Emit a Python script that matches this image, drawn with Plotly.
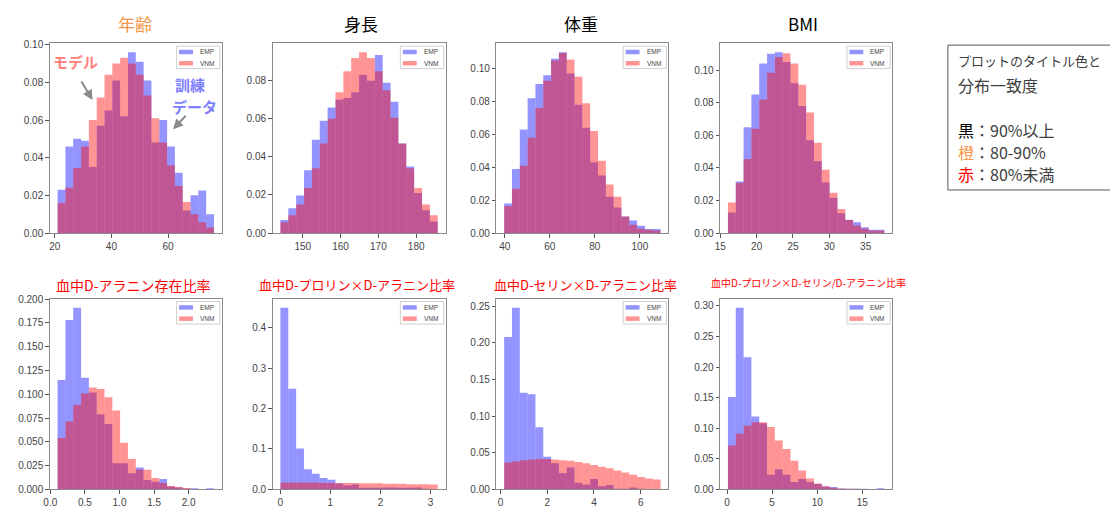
import numpy as np
import plotly.graph_objects as go

W, H = 1110, 516

titles = ["年齢", "身長", "体重", "BMI",
          "血中D-アラニン存在比率", "血中D-プロリン×D-アラニン比率",
          "血中D-セリン×D-アラニン比率", "血中D-プロリン×D-セリン/D-アラニン比率"]
title_colors = ["#F79646", "#000000", "#000000", "#000000",
                "#FF0000", "#FF0000", "#FF0000", "#FF0000"]
title_sizes = [17, 17, 17, 17, 14, 13, 13, 10]

# histogram bin range (first edge, last edge), 20 equal bins each
age_range = [21.0, 76.2]
height_range = [144.1, 185.7]
weight_range = [39.7, 109.2]
bmi_range = [16.05, 37.57]
ala_range = [0.106, 2.365]
proala_range = [0.003, 3.145]
serala_range = [0.156, 6.85]
proserala_range = [0.1, 17.45]

age_emp = [0.023, 0.046, 0.050, 0.049, 0.035, 0.057, 0.065, 0.081, 0.062, 0.096,
           0.091, 0.081, 0.048, 0.060, 0.046, 0.032, 0.012, 0.020, 0.0226, 0.010]
age_vnm = [0.016, 0.024, 0.0345, 0.046, 0.060, 0.072, 0.084, 0.090, 0.093, 0.090,
           0.084, 0.073, 0.061, 0.048, 0.036, 0.025, 0.0165, 0.010, 0.0057, 0.003]

height_emp = [0.0069, 0.013, 0.0197, 0.033, 0.049, 0.059, 0.066, 0.070, 0.071, 0.074,
              0.083, 0.080, 0.0936, 0.079, 0.069, 0.047, 0.035, 0.021, 0.012, 0.006]
height_vnm = [0.0057, 0.0094, 0.015, 0.0237, 0.034, 0.047, 0.060, 0.074, 0.085, 0.092,
              0.095, 0.092, 0.085, 0.075, 0.0606, 0.047, 0.034, 0.0237, 0.015, 0.0094]

weight_emp = [0.018, 0.039, 0.063, 0.082, 0.0906, 0.096, 0.106, 0.110, 0.097, 0.078,
              0.064, 0.043, 0.035, 0.022, 0.0155, 0.010, 0.0076, 0.0044, 0.0024, 0.0024]
weight_vnm = [0.0165, 0.027, 0.041, 0.058, 0.076, 0.0926, 0.105, 0.1095, 0.1056, 0.095,
              0.079, 0.062, 0.044, 0.0295, 0.022, 0.010, 0.005, 0.0026, 0.002, 0.0016]

bmi_emp = [0.0126, 0.0317, 0.065, 0.085, 0.104, 0.110, 0.111, 0.105, 0.092, 0.078,
           0.057, 0.044, 0.031, 0.0217, 0.0122, 0.0082, 0.0066, 0.0036, 0.002, 0.002]
bmi_vnm = [0.0187, 0.0307, 0.0454, 0.064, 0.082, 0.0984, 0.108, 0.1104, 0.104, 0.091,
           0.074, 0.0554, 0.0388, 0.0247, 0.0147, 0.008, 0.0046, 0.0026, 0.0016, 0.0016]

ala_emp = [0.115, 0.178, 0.191, 0.1175, 0.102, 0.079, 0.0687, 0.0275, 0.0275, 0.017,
           0.023, 0.010, 0.008, 0.011, 0.003, 0.002, 0.001, 0.0013, 0.0, 0.0013]
ala_vnm = [0.054, 0.0715, 0.0887, 0.1007, 0.107, 0.1055, 0.097, 0.083, 0.049, 0.032,
           0.021, 0.0206, 0.012, 0.0068, 0.0035, 0.0025, 0.0015, 0.0005, 0.0, 0.0]

proala_emp = [0.449, 0.249, 0.101, 0.050, 0.039, 0.028, 0.024, 0.0146, 0.010, 0.012,
              0.004, 0.004, 0.004, 0.005, 0.005, 0.004, 0.004, 0.005, 0.002, 0.001]
proala_vnm = [0.017, 0.017, 0.017, 0.017, 0.017, 0.016, 0.016, 0.016, 0.016, 0.016,
              0.015, 0.015, 0.015, 0.014, 0.014, 0.014, 0.013, 0.013, 0.013, 0.012]

serala_emp = [0.208, 0.248, 0.132, 0.130, 0.085, 0.0446, 0.0357, 0.022, 0.030, 0.009,
              0.0067, 0.0143, 0.0045, 0.006, 0.001, 0.001, 0.0027, 0.001, 0.0, 0.0]
serala_vnm = [0.0366, 0.038, 0.040, 0.041, 0.0415, 0.0415, 0.041, 0.040, 0.039, 0.0375,
              0.0357, 0.0335, 0.031, 0.029, 0.026, 0.023, 0.020, 0.017, 0.015, 0.0134]

proserala_emp = [0.151, 0.297, 0.216, 0.119, 0.108, 0.024, 0.033, 0.024, 0.012, 0.017,
                 0.012, 0.009, 0.005, 0.004, 0.0016, 0.001, 0.001, 0.001, 0.0, 0.002]
proserala_vnm = [0.072, 0.091, 0.104, 0.110, 0.110, 0.102, 0.080, 0.066, 0.047, 0.031,
                 0.018, 0.0096, 0.0054, 0.0027, 0.0016, 0.001, 0.001, 0.0005, 0.0005, 0.0]

ranges = [age_range, height_range, weight_range, bmi_range,
          ala_range, proala_range, serala_range, proserala_range]
emps = [age_emp, height_emp, weight_emp, bmi_emp, ala_emp, proala_emp, serala_emp, proserala_emp]
vnms = [age_vnm, height_vnm, weight_vnm, bmi_vnm, ala_vnm, proala_vnm, serala_vnm, proserala_vnm]

x_ticks = [[20, 40, 60], [150, 160, 170, 180], [40, 60, 80, 100], [15, 20, 25, 30, 35],
           [0.0, 0.5, 1.0, 1.5, 2.0], [0, 1, 2, 3], [0, 2, 4, 6], [0, 5, 10, 15]]
x_fmt = ["d", "d", "d", "d", ".1f", "d", "d", "d"]
y_dtick = [0.02, 0.02, 0.02, 0.02, 0.025, 0.1, 0.05, 0.05]
y_fmt = [".2f", ".2f", ".2f", ".2f", ".3f", ".1f", ".2f", ".2f"]

series_names = ["EMP", "VNM"]
EMP_COLOR = "rgba(0,0,255,0.42)"
VNM_COLOR = "rgba(255,0,0,0.42)"

# layout geometry in pixels
cols = [(44, 217), (268, 442), (493, 666), (718, 891)]
rows = [(39, 233), (300, 495)]

fig = go.Figure()
layout = dict(width=W, height=H, margin=dict(l=0, r=0, t=0, b=0),
              paper_bgcolor="white", plot_bgcolor="white",
              barmode="overlay", showlegend=False,
              font=dict(family="Liberation Sans, Arial, sans-serif", size=10, color="#444"))
shapes = []
annotations = []

for i in range(8):
    r, c = divmod(i, 4)
    x0p, x1p = cols[c]
    y0p, y1p = rows[r]
    wpx, hpx = x1p - x0p, y1p - y0p
    n = i + 1
    xa = "x" if n == 1 else f"x{n}"
    ya = "y" if n == 1 else f"y{n}"
    lo, hi = ranges[i]
    edges = np.linspace(lo, hi, len(emps[i]) + 1)
    centers = (edges[:-1] + edges[1:]) / 2
    bw = edges[1] - edges[0]
    for name, vals, col in [("EMP", emps[i], EMP_COLOR), ("VNM", vnms[i], VNM_COLOR)]:
        fig.add_trace(go.Bar(x=centers, y=vals, width=bw, name=name,
                             marker=dict(color=col, line=dict(width=0)),
                             xaxis=xa, yaxis=ya, hoverinfo="x+y+name"))
    span = hi - lo
    ymax = max(max(emps[i]), max(vnms[i])) * 1.05
    axis_common = dict(showline=True, mirror=True, linecolor="#8a8a8a", linewidth=1,
                       showgrid=False, zeroline=False, ticks="outside", ticklen=3.5,
                       tickcolor="#555", tickwidth=1,
                       tickfont=dict(size=10, color="#444"))
    layout["xaxis" if n == 1 else f"xaxis{n}"] = dict(
        domain=[x0p / W, x1p / W], range=[lo - 0.05 * span, hi + 0.05 * span],
        anchor=ya, tickmode="array", tickvals=x_ticks[i], tickformat=x_fmt[i], **axis_common)
    layout["yaxis" if n == 1 else f"yaxis{n}"] = dict(
        domain=[1 - y1p / H, 1 - y0p / H], range=[0, ymax], anchor=xa,
        tick0=0, dtick=y_dtick[i], tickformat=y_fmt[i], **axis_common)

    # per-subplot legend
    xr, yr = f"{xa} domain", f"{ya} domain"
    shapes.append(dict(type="rect", xref=xr, yref=yr,
                       x0=1 - 45.5 / wpx, x1=1 - 2 / wpx, y0=1 - 26 / hpx, y1=1 - 3 / hpx,
                       line=dict(color="#d0d0d0", width=1), fillcolor="rgba(255,255,255,0.8)",
                       layer="above"))
    for k, (name, col) in enumerate(zip(series_names, [EMP_COLOR, VNM_COLOR])):
        yc = 9 + k * 11.5
        shapes.append(dict(type="rect", xref=xr, yref=yr,
                           x0=1 - 43 / wpx, x1=1 - 29 / wpx,
                           y0=1 - (yc + 2.3) / hpx, y1=1 - (yc - 2.3) / hpx,
                           line=dict(width=0), fillcolor=col, layer="above"))
        annotations.append(dict(xref=xr, yref=yr, x=1 - 24 / wpx, y=1 - yc / hpx,
                                text=name, showarrow=False, xanchor="left", yanchor="middle",
                                font=dict(size=6.5, color="#444")))

# subplot titles
title_pos = [(130, 19), (357, 19), (578, 19), (801, 19),
             (128, 286), (353, 286), (583, 286), (807, 284)]
for t, col, sz, (cx, cy) in zip(titles, title_colors, title_sizes, title_pos):
    annotations.append(dict(xref="paper", yref="paper", x=cx / W, y=1 - cy / H, text=t,
                            showarrow=False, xanchor="center", yanchor="middle",
                            font=dict(size=sz, color=col, family="Noto Sans CJK JP")))

# annotations inside the age plot
cjk = "Noto Sans CJK JP"
for txt, cx, cy, col in [("<b>モデル</b>", 70, 58, "#FF7F7F"),
                         ("<b>訓練</b>", 185, 81, "#8080FF"),
                         ("<b>データ</b>", 190, 104, "#8080FF")]:
    annotations.append(dict(xref="paper", yref="paper", x=cx / W, y=1 - cy / H, text=txt,
                            showarrow=False, xanchor="center", yanchor="middle",
                            font=dict(size=15, color=col, family=cjk)))
annotations.append(dict(xref="paper", yref="paper", x=87 / W, y=1 - 97 / H, text="",
                        showarrow=True, ax=-12, ay=-20, arrowhead=2, arrowsize=1, arrowwidth=2,
                        arrowcolor="#8a8a8a", standoff=0))
annotations.append(dict(xref="paper", yref="paper", x=168 / W, y=1 - 127 / H, text="",
                        showarrow=True, ax=14, ay=-15, arrowhead=2, arrowsize=1, arrowwidth=2,
                        arrowcolor="#8a8a8a", standoff=0))

# explanatory box on the right
shapes.append(dict(type="rect", xref="paper", yref="paper",
                   x0=947 / W, x1=1.01, y0=1 - 189 / H, y1=1 - 41 / H,
                   line=dict(color="#555", width=1), fillcolor="white"))
box_lines = [
    ("プロットのタイトル色と", 57, 13),
    ("分布一致度", 82, 16),
    ("<span style='color:#000000'>黒</span>：90%以上", 128, 16),
    ("<span style='color:#F79646'>橙</span>：80-90%", 150, 16),
    ("<span style='color:#FF0000'>赤</span>：80%未満", 173, 16),
]
for txt, cy, sz in box_lines:
    annotations.append(dict(xref="paper", yref="paper", x=955 / W, y=1 - cy / H, text=txt,
                            showarrow=False, xanchor="left", yanchor="middle",
                            font=dict(size=sz, color="#404040", family=cjk)))

layout["shapes"] = shapes
layout["annotations"] = annotations
fig.update_layout(**layout)
fig.write_html("out.html", config={"displayModeBar": False},
               post_script="document.body.style.margin='0';document.body.style.overflow='hidden';")
